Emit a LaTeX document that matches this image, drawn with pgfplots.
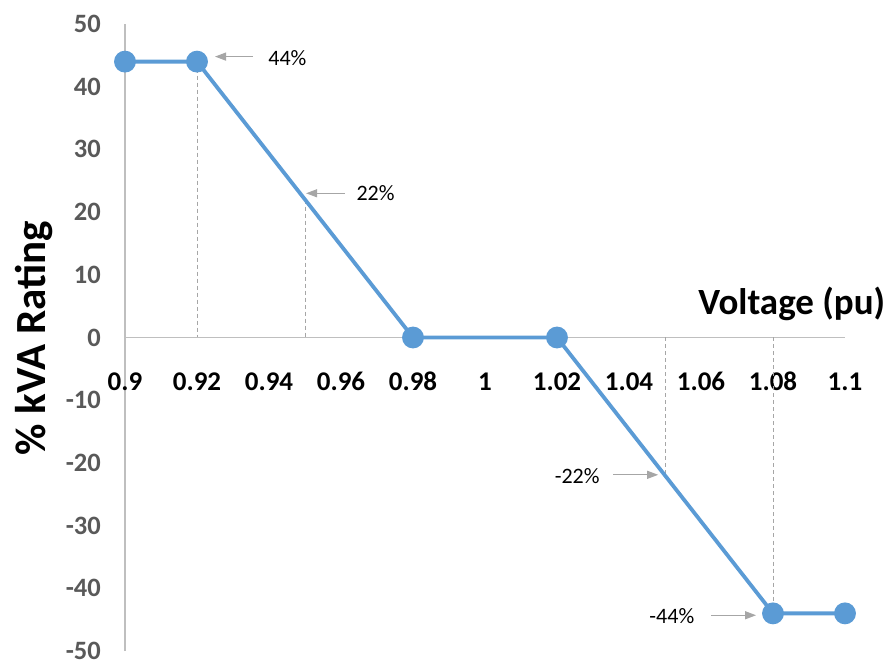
\documentclass[border=0pt]{standalone}
\usepackage{fontspec}
\setmainfont{Carlito}
\usepackage{pgfplots}
\pgfplotsset{compat=1.18}
\usetikzlibrary{arrows.meta}
\definecolor{lineblue}{HTML}{5B9BD5}
\definecolor{axgray}{HTML}{BFBFBF}
\definecolor{dashgray}{HTML}{A6A6A6}
\definecolor{ticklbl}{HTML}{595959}
\begin{document}
\begin{tikzpicture}
\begin{axis}[
  scale only axis, width=720pt, height=627pt,
  xmin=0.9, xmax=1.1, ymin=-50, ymax=50,
  axis x line=middle, axis y line=left,
  axis line style={axgray, line width=1.3pt, -},
  hide obscured x ticks=false, hide obscured y ticks=false,
  xtick={0.9,0.92,0.94,0.96,0.98,1,1.02,1.04,1.06,1.08,1.1},
  xticklabels={0.9,0.92,0.94,0.96,0.98,1,1.02,1.04,1.06,1.08,1.1},
  ytick={-50,-40,-30,-20,-10,0,10,20,30,40,50},
  yticklabels={-50,-40,-30,-20,-10,0,10,20,30,40,50},
  major tick length=0pt,
  tick style={draw=none},
  xticklabel style={font=\fontsize{27}{27}\selectfont\bfseries, text=black, anchor=center, yshift=-44pt},
  yticklabel style={font=\fontsize{26.5}{26.5}\selectfont\bfseries, text=ticklbl, anchor=east, inner sep=0pt, xshift=-24pt},
  xlabel={Voltage (pu)},
  xlabel style={at={(axis description cs:0.926,0.553)}, anchor=center, font=\fontsize{37}{37}\selectfont\bfseries},
  ylabel={\% kVA Rating},
  ylabel style={at={(axis description cs:-0.126,0.499)}, anchor=center, font=\fontsize{43}{43}\selectfont\bfseries},
  clip=false,
]
\addplot[dashgray, line width=0.9pt, dash pattern=on 4pt off 3pt, forget plot] coordinates {(0.92,44) (0.92,0)};
\addplot[dashgray, line width=0.9pt, dash pattern=on 4pt off 3pt, forget plot] coordinates {(0.95,22) (0.95,0)};
\addplot[dashgray, line width=0.9pt, dash pattern=on 4pt off 3pt, forget plot] coordinates {(1.05,0) (1.05,-22)};
\addplot[dashgray, line width=0.9pt, dash pattern=on 4pt off 3pt, forget plot] coordinates {(1.08,0) (1.08,-44)};
\addplot[lineblue, line width=3.8pt, mark=*, mark size=9pt, mark options={solid, fill=lineblue, draw=none}] coordinates {(0.9,44) (0.92,44) (0.98,0) (1.02,0) (1.08,-44) (1.1,-44)};
\draw[dashgray, line width=1.2pt, -{Triangle[length=11pt,width=8pt]}] (axis cs:0.9356,44.8) -- (axis cs:0.925,44.8);
\node[font=\fontsize{22}{22}\selectfont] at (axis cs:0.9451,44.6) {44\%};
\draw[dashgray, line width=1.2pt, -{Triangle[length=11pt,width=8pt]}] (axis cs:0.9611,23.0) -- (axis cs:0.9503,23.0);
\node[font=\fontsize{22}{22}\selectfont] at (axis cs:0.9696,23.0) {22\%};
\draw[dashgray, line width=1.2pt, -{Triangle[length=11pt,width=8pt]}] (axis cs:1.0356,-21.9) -- (axis cs:1.0481,-21.9);
\node[font=\fontsize{22}{22}\selectfont] at (axis cs:1.0256,-22.1) {-22\%};
\draw[dashgray, line width=1.2pt, -{Triangle[length=11pt,width=8pt]}] (axis cs:1.0628,-44.3) -- (axis cs:1.0753,-44.3);
\node[font=\fontsize{22}{22}\selectfont] at (axis cs:1.0519,-44.4) {-44\%};
\end{axis}
\pgfresetboundingbox
\path (-125pt,-15pt) rectangle (765pt,651pt);
\end{tikzpicture}
\end{document}
